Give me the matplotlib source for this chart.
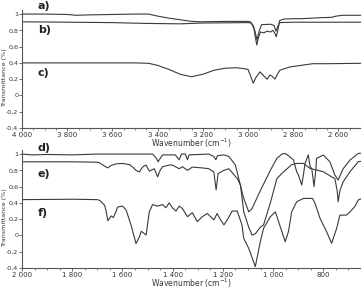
import numpy as np
import matplotlib.pyplot as plt
from matplotlib import ticker

plt.rcParams['font.family'] = ['DejaVu Sans']

# top panel: 4000-2500 cm-1
wn_a = [4000, 3900, 3800, 3760, 3700, 3600, 3500, 3440, 3400, 3350, 3300, 3250, 3200, 3100, 3000,
        2990, 2975, 2968, 2961, 2955, 2945, 2930, 2915, 2900, 2890, 2880, 2875, 2868, 2860, 2840,
        2750, 2684, 2630, 2610, 2580, 2500]
t_a = [1.0, 1.0, 0.995, 0.985, 0.99, 0.995, 1.0, 1.0, 0.975, 0.95, 0.93, 0.91, 0.905, 0.91, 0.91,
       0.905, 0.85, 0.72, 0.62, 0.70, 0.78, 0.77, 0.79, 0.78, 0.80, 0.76, 0.72, 0.80, 0.92, 0.94,
       0.945, 0.955, 0.96, 0.975, 0.985, 0.985]

wn_b = [4000, 3800, 3600, 3450, 3300, 3200, 3000, 2985, 2970, 2960, 2952, 2940, 2900, 2885,
        2876, 2868, 2860, 2800, 2500]
t_b = [0.905, 0.9, 0.895, 0.885, 0.88, 0.89, 0.895, 0.89, 0.80, 0.68, 0.78, 0.87, 0.875, 0.86,
       0.79, 0.85, 0.895, 0.9, 0.9]

wn_c = [4000, 3500, 3440, 3400, 3350, 3300, 3250, 3200, 3150, 3100, 3050, 3020, 3000, 2990,
        2977, 2965, 2947, 2930, 2915, 2903, 2895, 2881, 2870, 2859, 2815, 2714, 2650, 2500]
t_c = [0.40, 0.40, 0.395, 0.37, 0.32, 0.26, 0.23, 0.26, 0.31, 0.335, 0.34, 0.33, 0.32, 0.25,
       0.15, 0.22, 0.29, 0.24, 0.20, 0.25, 0.24, 0.20, 0.26, 0.31, 0.35, 0.39, 0.39, 0.395]

# bottom panel: 2000-650 cm-1
wn_d = [2000, 1960, 1900, 1800, 1700, 1600, 1520, 1480, 1465, 1458, 1447, 1440, 1414, 1390,
        1374, 1365, 1350, 1341, 1335, 1256, 1236, 1228, 1222, 1196, 1176, 1150, 1137, 1125,
        1117, 1097, 1084, 1051, 1011, 985, 965, 952, 939, 919, 906, 899, 886, 879, 873, 860,
        853, 846, 837, 830, 827, 800, 774, 754, 741, 721, 694, 661, 650]
t_d = [1.0, 0.99, 0.995, 0.99, 1.0, 1.0, 1.0, 1.0, 0.95, 0.905, 0.96, 0.99, 0.99, 0.99,
       0.93, 1.0, 1.0, 0.93, 0.99, 1.0, 0.97, 0.93, 0.98, 0.99, 0.97, 0.865, 0.70, 0.55,
       0.455, 0.29, 0.33, 0.55, 0.80, 0.947, 1.0, 1.008, 0.98, 0.93, 0.78, 0.74, 0.62, 0.75,
       0.885, 0.99, 0.85, 0.82, 0.60, 0.80, 0.947, 0.988, 0.906, 0.742, 0.681, 0.82, 0.926,
       1.008, 1.01]

wn_e = [2000, 1800, 1700, 1690, 1670, 1659, 1645, 1625, 1600, 1572, 1559, 1546, 1533, 1520,
        1506, 1493, 1473, 1460, 1450, 1440, 1414, 1401, 1374, 1361, 1341, 1322, 1282, 1256,
        1236, 1227, 1219, 1196, 1176, 1157, 1143, 1130, 1117, 1097, 1084, 1071, 1051, 1038,
        1011, 985, 959, 926, 906, 879, 853, 800, 767, 754, 745, 741, 734, 721, 694, 661, 650]
t_e = [0.905, 0.905, 0.9, 0.89, 0.85, 0.83, 0.86, 0.88, 0.885, 0.87, 0.84, 0.80, 0.78, 0.84,
       0.865, 0.79, 0.82, 0.72, 0.80, 0.845, 0.865, 0.865, 0.82, 0.845, 0.80, 0.84, 0.83, 0.82,
       0.78, 0.56, 0.76, 0.80, 0.82, 0.75, 0.70, 0.62, 0.29, 0.10, 0.005, 0.02, 0.10, 0.13,
       0.40, 0.70, 0.78, 0.87, 0.885, 0.885, 0.824, 0.783, 0.72, 0.70, 0.55, 0.414, 0.55, 0.66,
       0.783, 0.906, 0.91]

wn_f = [2000, 1800, 1700, 1690, 1671, 1665, 1658, 1645, 1636, 1625, 1619, 1599, 1585, 1566,
        1559, 1546, 1533, 1525, 1520, 1506, 1493, 1480, 1460, 1440, 1427, 1414, 1401, 1387,
        1374, 1361, 1341, 1322, 1302, 1282, 1262, 1249, 1236, 1223, 1209, 1196, 1183, 1163,
        1143, 1124, 1117, 1097, 1071, 1051, 1038, 1011, 991, 978, 965, 952, 939, 926, 906,
        879, 843, 833, 813, 787, 767, 747, 734, 708, 694, 675, 661, 650]
t_f = [0.44, 0.445, 0.44, 0.43, 0.37, 0.30, 0.18, 0.24, 0.22, 0.30, 0.35, 0.36, 0.31, 0.13,
       0.05, -0.10, -0.02, 0.05, 0.04, 0.005, 0.29, 0.38, 0.36, 0.38, 0.34, 0.40, 0.34, 0.30,
       0.36, 0.33, 0.23, 0.28, 0.17, 0.23, 0.27, 0.23, 0.19, 0.27, 0.19, 0.13, 0.19, 0.30,
       0.30, 0.13, -0.036, -0.159, -0.384, -0.077, 0.087, 0.23, 0.29, 0.168, 0.046, -0.077,
       0.046, 0.29, 0.414, 0.455, 0.455, 0.394, 0.209, 0.046, -0.097, 0.087, 0.25, 0.25, 0.29,
       0.353, 0.435, 0.45]

yticks = [-0.4, -0.2, 0, 0.2, 0.4, 0.6, 0.8, 1]


def yfmt(v, pos):
    s = ('%g' % round(v, 2)).replace('.', ',')
    return s


def xfmt(v, pos):
    v = int(round(v))
    if v >= 1000:
        return '%d %03d' % (v // 1000, v % 1000)
    return str(v)


fig = plt.figure(figsize=(3.61, 2.90), dpi=100)
ax1 = fig.add_axes([22 / 361, 162 / 290, 339 / 361, 118 / 290])
ax2 = fig.add_axes([22 / 361, 22 / 290, 339 / 361, 118 / 290])

lc = '#3a3a3a'
for ax, series, xlim, labels in [
        (ax1, [(wn_a, t_a), (wn_b, t_b), (wn_c, t_c)], (4000, 2500),
         [('a)', 1.10), ('b)', 0.80), ('c)', 0.28)]),
        (ax2, [(wn_d, t_d), (wn_e, t_e), (wn_f, t_f)], (2000, 650),
         [('d)', 1.08), ('e)', 0.76), ('f)', 0.27)])]:
    for w, t in series:
        ax.plot(w, t, color=lc, lw=0.8)
    ax.set_xlim(*xlim)
    ax.set_ylim(-0.4, 1.05)
    ax.set_yticks(yticks)
    ax.yaxis.set_major_formatter(ticker.FuncFormatter(yfmt))
    ax.xaxis.set_major_locator(ticker.MultipleLocator(200))
    ax.xaxis.set_minor_locator(ticker.MultipleLocator(50))
    ax.xaxis.set_major_formatter(ticker.FuncFormatter(xfmt))
    for s in ['top', 'right']:
        ax.spines[s].set_visible(False)
    for s in ['left', 'bottom']:
        ax.spines[s].set_color('#555555')
        ax.spines[s].set_linewidth(0.8)
    ax.tick_params(labelsize=5, length=2, width=0.6, pad=1, colors='#555555',
                   labelcolor='#333333')
    ax.tick_params(axis='y', labelsize=4.6, pad=0.6)
    ax.tick_params(which='minor', length=1.5, width=0.5, colors='#555555')
    ax.set_xlabel('Wavenumber (cm$^{-1}$)', fontsize=5.5, color='#333333', va='top')
    ax.xaxis.set_label_coords(0.5, -0.075)
    ax.set_ylabel('Transmittance (%)', fontsize=4.6, color='#333333', va='center')
    ax.yaxis.set_label_coords(-0.052, 0.43)
    x0 = xlim[0] - (xlim[0] - xlim[1]) * 0.047
    for txt, yy in labels:
        ax.text(x0, yy, txt, fontsize=8, fontweight='bold', va='center', ha='left',
                color='#222222')

fig.savefig('out.png', dpi=100)
